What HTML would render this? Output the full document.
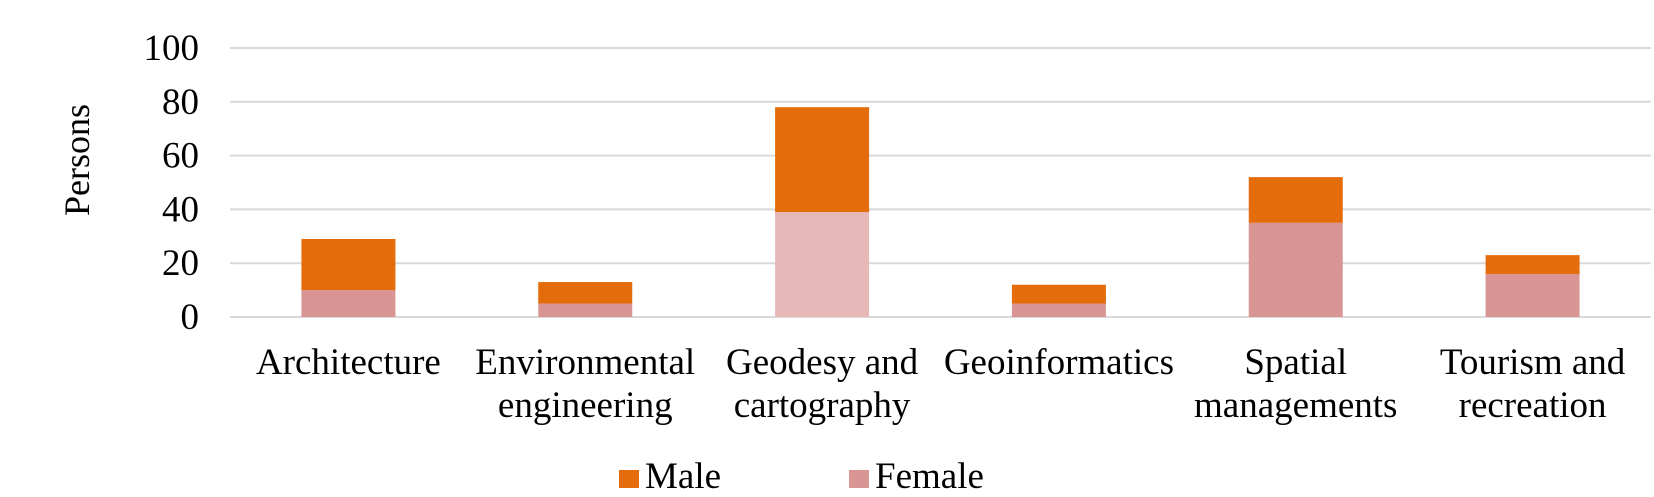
<!DOCTYPE html>
<html><head><meta charset="utf-8"><style>
html,body{margin:0;padding:0;background:#fff;}
svg{display:block;font-family:"Liberation Serif",serif;}
</style></head><body>
<svg id="chart" width="1654" height="497" viewBox="0 0 1654 497">
<g id="grid"></g>
<g id="yticks"></g>
<text x="0" y="0" transform="translate(89,160) rotate(-90)" text-anchor="middle" font-size="36">Persons</text>
<g id="bars"></g>
<g id="xlabels"></g>
<g>
<g>
<rect x="619" y="470" width="20" height="18" fill="#E46C0A"/>
<text x="645" y="488" font-size="37">Male</text>
</g>
<g>
<rect x="849" y="470" width="20" height="18" fill="#D99594"/>
<text x="875" y="488" font-size="37">Female</text>
</g>
</g>
</svg>
<script>
const categories = [["Architecture"],["Environmental","engineering"],["Geodesy and","cartography"],["Geoinformatics"],["Spatial","managements"],["Tourism and","recreation"]];
const femaleValues = [10, 5, 39, 5, 35, 16];
const maleValues = [19, 8, 39, 7, 17, 7];
const yTicks = [0, 20, 40, 60, 80, 100];

const NS = "http://www.w3.org/2000/svg";
const plotLeft = 230, plotRight = 1651, plotTop = 48, plotBottom = 317, yMax = 100;
const band = (plotRight - plotLeft) / categories.length;
const barW = 94;
function yScale(v){ return plotBottom - (v / yMax) * (plotBottom - plotTop); }
function xc(i){ return plotLeft + band * (i + 0.5); }
function mk(tag, attrs, parent){ const e = document.createElementNS(NS, tag); for (const k in attrs) e.setAttribute(k, attrs[k]); parent.appendChild(e); return e; }

const gridG = document.getElementById('grid'), ytG = document.getElementById('yticks');
yTicks.forEach(t => {
  const l = mk('line', {x1:plotLeft, x2:plotRight, y1:yScale(t), y2:yScale(t), stroke:'#d9d9d9', 'stroke-width':2}, gridG);
  
  
  const tx = mk('text', {x:199, y:yScale(t)+12, 'text-anchor':'end', 'font-size':37}, ytG);
  tx.textContent = t;
  
  
});

const barsG = document.getElementById('bars'), xlG = document.getElementById('xlabels');
categories.forEach((c, i) => {
  const x0 = xc(i) - barW/2;
  const f = femaleValues[i], m = maleValues[i];
  const rf = mk('rect', {x:x0, y:yScale(f), width:barW, height:yScale(0)-yScale(f), fill: i===2 ? '#E6B9B8' : '#D99594'}, barsG);
  
  
  const rm = mk('rect', {x:x0, y:yScale(f+m), width:barW, height:yScale(f)-yScale(f+m), fill:'#E46C0A'}, barsG);
  
  
  c.forEach((line, j) => {
    const t = mk('text', {x:xc(i), y:374 + j*43, 'text-anchor':'middle', 'font-size':37}, xlG);
    t.textContent = line;
    
    
  });
});
</script>
</body></html>
